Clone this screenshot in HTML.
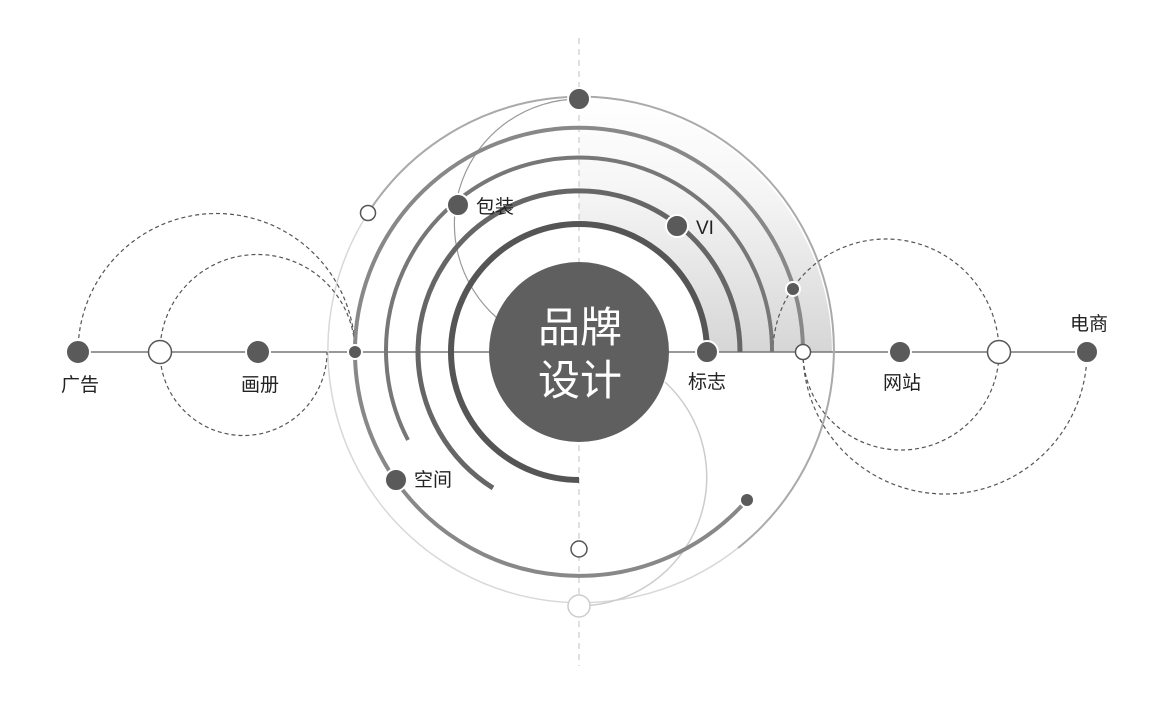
<!DOCTYPE html>
<html><head><meta charset="utf-8"><style>
html,body{margin:0;padding:0;background:#fff;}
svg{display:block;}
text{font-family:"Liberation Sans","Noto Sans CJK SC",sans-serif;}
</style></head><body>
<svg width="1166" height="704" viewBox="0 0 1166 704" xmlns="http://www.w3.org/2000/svg">
<defs>
<linearGradient id="g" x1="0" y1="99" x2="0" y2="352" gradientUnits="userSpaceOnUse">
<stop offset="0" stop-color="#ffffff"/><stop offset="0.35" stop-color="#f6f6f6"/><stop offset="1" stop-color="#d6d6d6"/>
</linearGradient>
</defs>
<path d="M579 99 A253 253 0 0 1 832 352 L707 352 A128 128 0 0 0 579 224 Z" fill="url(#g)"/>
<line x1="579" y1="38" x2="579" y2="666" stroke="#ccc" stroke-width="1.2" stroke-dasharray="6,5"/>
<line x1="78" y1="352" x2="1087" y2="352" stroke="#777" stroke-width="1.5"/>
<path d="M738 548 A253 253 0 0 1 368 213" fill="none" stroke="#d8d8d8" stroke-width="1.5"/>
<path d="M368 213 A253 253 0 1 1 738 548" fill="none" stroke="#aaa" stroke-width="2"/>
<path d="M579 99 A125 125 0 0 0 497 318" fill="none" stroke="#999" stroke-width="1.2"/>
<path d="M665 382 A129 129 0 0 1 579 606" fill="none" stroke="#ccc" stroke-width="1.5"/>
<g fill="none" stroke="#555" stroke-width="1.2" stroke-dasharray="4,3">
<path d="M78 352 A138.5 138.5 0 0 1 355 352"/>
<path d="M160 352 A97.5 97.5 0 0 1 355 352"/>
<path d="M160 352 A83.5 83.5 0 0 0 327 352"/>
<path d="M773 352 A113 113 0 0 1 999 352"/>
<path d="M803 352 A98 98 0 0 0 999 352"/>
<path d="M803 352 A142 142 0 0 0 1087 352"/>
</g>
<path d="M579 480 A128 128 0 1 1 707 352" fill="none" stroke="#555" stroke-width="6"/>
<path d="M740 352 A161 161 0 1 0 493 488" fill="none" stroke="#666" stroke-width="5"/>
<path d="M772 352 A193 193 0 1 0 408 440" fill="none" stroke="#777" stroke-width="4"/>
<path d="M803 352 A224 224 0 1 0 747 500" fill="none" stroke="#888" stroke-width="4"/>
<circle cx="579" cy="352" r="90" fill="#5f5f5f"/>
<text x="580" y="342" font-size="42" fill="#fff" text-anchor="middle">品牌</text>
<text x="580" y="395" font-size="42" fill="#fff" text-anchor="middle">设计</text>
<g stroke="#fff" stroke-width="2">
<circle cx="579" cy="99" r="11" fill="#5a5a5a"/>
<circle cx="458" cy="205" r="11" fill="#5a5a5a"/>
<circle cx="677" cy="226" r="11" fill="#5a5a5a"/>
<circle cx="793" cy="289" r="7" fill="#5a5a5a"/>
<circle cx="355" cy="352" r="7" fill="#5a5a5a"/>
<circle cx="707" cy="352" r="11" fill="#5a5a5a"/>
<circle cx="396" cy="480" r="11" fill="#5a5a5a"/>
<circle cx="747" cy="500" r="7" fill="#5a5a5a"/>
<circle cx="78" cy="352" r="12" fill="#5a5a5a"/>
<circle cx="258" cy="352" r="12" fill="#5a5a5a"/>
<circle cx="900" cy="352" r="11" fill="#5a5a5a"/>
<circle cx="1087" cy="352" r="11" fill="#5a5a5a"/>
</g>
<g fill="#fff" stroke="#555" stroke-width="1.5">
<circle cx="368" cy="213" r="7.5"/>
<circle cx="803" cy="352" r="7.5"/>
<circle cx="579" cy="549" r="8"/>
<circle cx="160" cy="352" r="11.5"/>
<circle cx="999" cy="352" r="11.5"/>
</g>
<circle cx="579" cy="606" r="11" fill="#fff" stroke="#ccc" stroke-width="1.5"/>
<g font-size="19" fill="#222">
<text x="476" y="213">包装</text>
<text x="696" y="234">VI</text>
<text x="414" y="486">空间</text>
<text x="707" y="388" text-anchor="middle">标志</text>
<text x="80" y="391" text-anchor="middle">广告</text>
<text x="260" y="391" text-anchor="middle">画册</text>
<text x="902" y="389" text-anchor="middle">网站</text>
<text x="1089" y="330" text-anchor="middle">电商</text>
</g>
</svg>
</body></html>
